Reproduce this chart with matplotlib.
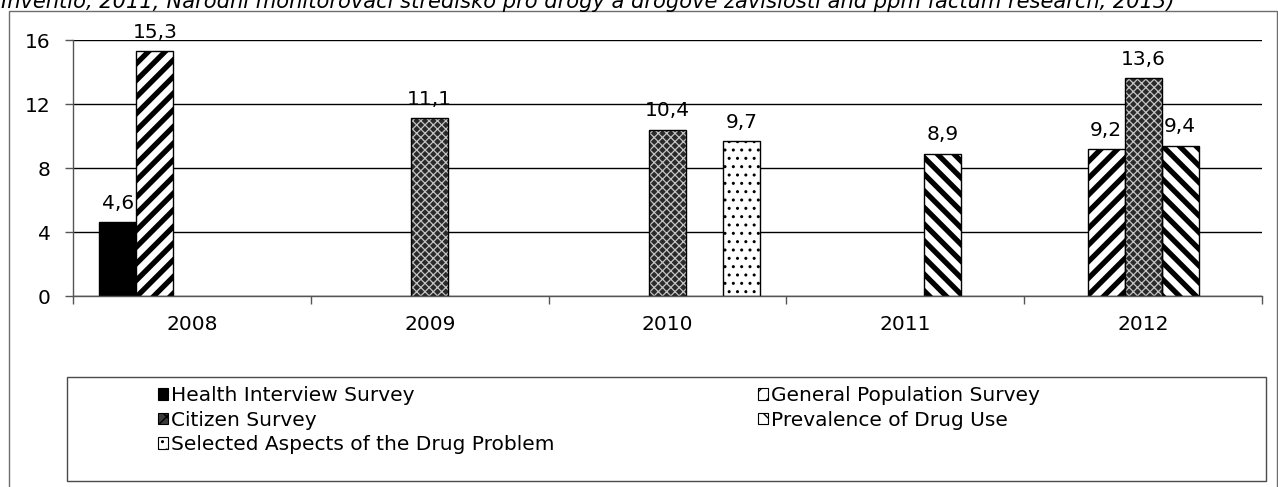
import numpy as np
import matplotlib
matplotlib.use("Agg")
import matplotlib.pyplot as plt
from matplotlib.patches import Rectangle, Patch

plt.rcParams['font.family'] = ['DejaVu Sans']

# ---- data -------------------------------------------------------------
years = ["2008", "2009", "2010", "2011", "2012"]
series_names = [
    "Health Interview Survey",
    "General Population Survey",
    "Citizen Survey",
    "Prevalence of Drug Use",
    "Selected Aspects of the Drug Problem",
]
health_interview = [4.6, np.nan, np.nan, np.nan, np.nan]
general_population = [15.3, np.nan, np.nan, np.nan, 9.2]
citizen_survey = [np.nan, 11.1, 10.4, np.nan, 13.6]
prevalence_drug_use = [np.nan, np.nan, np.nan, 8.9, 9.4]
selected_aspects = [np.nan, np.nan, 9.7, np.nan, np.nan]
y_ticks = [0, 4, 8, 12, 16]
source_note = ("Inventio, 2011; Národní monitorovací středisko pro drogy a drogové "
               "závislosti and ppm factum research, 2013)")

values = [health_interview, general_population, citizen_survey,
          prevalence_drug_use, selected_aspects]

W, H = 1278, 487
fig = plt.figure(figsize=(W / 100, H / 100), dpi=100)


def fx(px):
    return px / W


def fy(py):
    return 1 - py / H


# outer chart frame
fig.add_artist(Rectangle((fx(9), fy(495)), fx(1277) - fx(9), fy(11) - fy(495),
                         transform=fig.transFigure, fill=False,
                         edgecolor="#6e6e6e", linewidth=1.0))

# source note (runs over the page's upper edge)
fig.text(fx(1), fy(7.5), source_note, fontsize=15.1, style="italic",
         va="baseline", ha="left")

ax = fig.add_axes([fx(73), fy(296), fx(1262) - fx(73), fy(40) - fy(296)])

x = np.arange(len(years))
bw = 0.1556
FS = 14.5

styles = [
    dict(color="black", hatch=None, hlw=1.0),
    dict(color="white", hatch="//", hlw=3.8),
    dict(color="#2a2a2a", hatch="xxxx", hlw=0.9, hcolor="#c4c4c4"),
    dict(color="white", hatch="\\\\", hlw=3.8),
    dict(color="white", hatch="..", hlw=1.0),
]


def set_hlw(patch, lw):
    if hasattr(patch, "set_hatch_linewidth"):
        patch.set_hatch_linewidth(lw)


for i, (vals, st) in enumerate(zip(values, styles)):
    pos = x + (i - 2) * bw
    v = np.array(vals, dtype=float)
    mask = ~np.isnan(v)
    plt.rcParams['hatch.linewidth'] = st["hlw"]
    if st.get("hcolor"):
        fill = ax.bar(pos[mask], v[mask], bw, color=st["color"],
                      edgecolor=st["hcolor"], linewidth=0, hatch=st["hatch"],
                      zorder=3)
        for p in fill:
            set_hlw(p, st["hlw"])
        ax.bar(pos[mask], v[mask], bw, fill=False, edgecolor="black",
               linewidth=1.0, zorder=4)
    else:
        bars = ax.bar(pos[mask], v[mask], bw, color=st["color"],
                      edgecolor="black", linewidth=1.0, hatch=st["hatch"],
                      zorder=3)
        for p in bars:
            set_hlw(p, st["hlw"])
    for xp, val in zip(pos[mask], v[mask]):
        ax.annotate(f"{val:.1f}".replace(".", ","), (xp, val),
                    xytext=(0, 9.5), textcoords="offset points",
                    ha="center", va="baseline", fontsize=FS, zorder=5)

plt.rcParams['hatch.linewidth'] = 1.0

ax.set_xlim(-0.5, len(years) - 0.5)
ax.set_ylim(0, 16)
ax.set_yticks(y_ticks)
ax.set_yticklabels([str(t) for t in y_ticks], fontsize=FS)
ax.set_xticks(x)
ax.set_xticklabels(years, fontsize=FS)
ax.set_xticks(np.arange(-0.5, len(years)), minor=True)
ax.tick_params(axis="x", which="major", length=0, pad=14)
ax.tick_params(axis="x", which="minor", length=6, width=1.0, color="#555555",
               direction="out")
ax.tick_params(axis="y", length=6, width=1.0, color="#555555", pad=10)
ax.yaxis.grid(True, color="black", linewidth=1.0, zorder=0)
ax.set_axisbelow(True)
for s in ("top", "right"):
    ax.spines[s].set_visible(False)
for s in ("left", "bottom"):
    ax.spines[s].set_color("#555555")
    ax.spines[s].set_linewidth(1.0)
ax.spines["bottom"].set_zorder(5)

# legend frame
fig.add_artist(Rectangle((fx(67), fy(481)), fx(1266) - fx(67), fy(377) - fy(481),
                         transform=fig.transFigure, fill=False,
                         edgecolor="#4a4a4a", linewidth=1.0))

handles = []
for name, st in zip(series_names, styles):
    if st.get("hcolor"):
        h = Patch(facecolor="#3a3a3a", edgecolor="black", hatch="xx",
                  linewidth=0.8, label=name)
    else:
        h = Patch(facecolor=st["color"], edgecolor="black", hatch=st["hatch"],
                  linewidth=0.8, label=name)
    handles.append(h)

legend_kw = dict(loc="upper left", bbox_transform=fig.transFigure, ncol=1,
                 frameon=False, fontsize=FS, borderpad=0, borderaxespad=0,
                 handlelength=0.5, handleheight=0.5, handletextpad=0.15,
                 labelspacing=0.28)
left_col = [0, 2, 4]
right_col = [1, 3]
fig.legend([handles[k] for k in left_col], [series_names[k] for k in left_col],
           bbox_to_anchor=(fx(158), fy(386)), **legend_kw)
fig.legend([handles[k] for k in right_col], [series_names[k] for k in right_col],
           bbox_to_anchor=(fx(758), fy(386)), **legend_kw)

fig.savefig("out.png", dpi=100)
